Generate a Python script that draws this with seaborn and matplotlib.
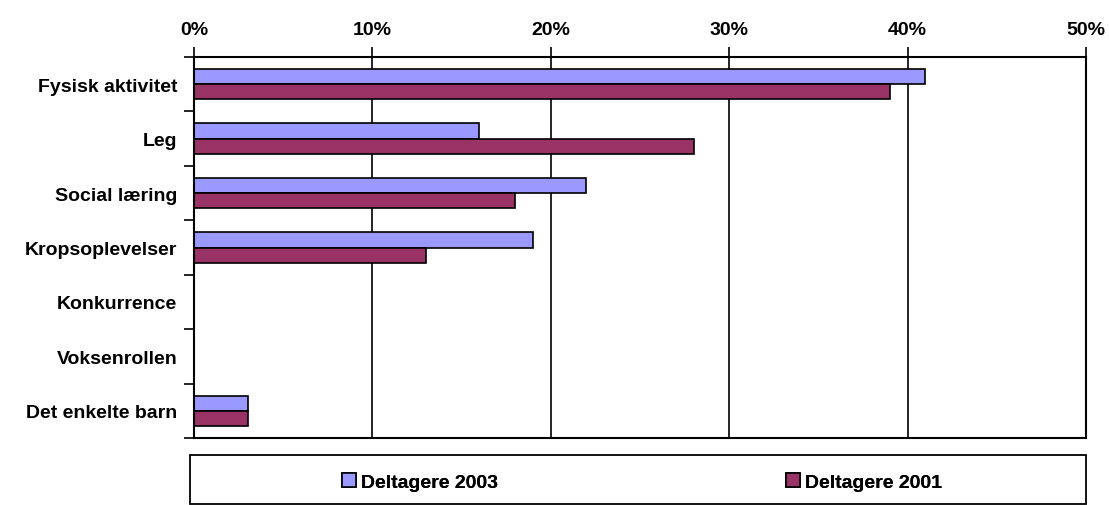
import matplotlib
matplotlib.use("Agg")
import matplotlib.pyplot as plt
import seaborn as sns
import pandas as pd
from matplotlib.patches import Rectangle
from matplotlib.ticker import FixedLocator, PercentFormatter

categories = ["Fysisk aktivitet", "Leg", "Social læring", "Kropsoplevelser",
              "Konkurrence", "Voksenrollen", "Det enkelte barn"]
deltagere_2003 = [41, 16, 22, 19, 0, 0, 3]
deltagere_2001 = [39, 28, 18, 13, 0, 0, 3]
series_names = ["Deltagere 2003", "Deltagere 2001"]
colors = ["#9999FF", "#993366"]
x_ticks = [0, 10, 20, 30, 40, 50]

df = pd.DataFrame({
    "Kategori": categories * 2,
    "Andel": deltagere_2003 + deltagere_2001,
    "Serie": [series_names[0]] * len(categories) + [series_names[1]] * len(categories),
})

sns.set_style("white")
plt.rcParams["font.family"] = ["Liberation Sans", "DejaVu Sans"]
plt.rcParams["font.weight"] = "bold"
plt.rcParams["text.color"] = "black"
plt.rcParams["xtick.color"] = "black"
plt.rcParams["ytick.color"] = "black"

FS = 14

fig = plt.figure(figsize=(11.09, 5.06), dpi=100)
ax = fig.add_axes([194 / 1109, 1 - 439 / 506, (1086 - 194) / 1109, (439 - 58) / 506])

sns.barplot(data=df, x="Andel", y="Kategori", hue="Serie", orient="h",
            palette=colors, order=categories, hue_order=series_names, saturation=1,
            width=0.56, edgecolor="black", linewidth=1.2, ax=ax, legend=True)

handles, labels = ax.get_legend_handles_labels()
if ax.get_legend() is not None:
    ax.get_legend().remove()

ax.set_xlim(0, 50)
ax.set_ylim(len(categories) - 0.5, -0.5)
ax.xaxis.set_major_locator(FixedLocator(x_ticks))
ax.xaxis.set_major_formatter(PercentFormatter(decimals=0))
ax.xaxis.tick_top()
ax.tick_params(axis="x", which="major", direction="out", length=7, width=1.2,
               color="black", labelcolor="black", pad=7, labelsize=FS)
ax.grid(axis="x", color="black", linewidth=1.2)
ax.set_axisbelow(True)
for lbl in ax.get_xticklabels():
    lbl.set_fontweight("bold")

ax.yaxis.set_minor_locator(FixedLocator([i - 0.5 for i in range(len(categories) + 1)]))
ax.tick_params(axis="y", which="major", length=0, pad=12, labelsize=FS, labelcolor="black")
ax.tick_params(axis="y", which="minor", direction="out", length=7, width=1.2,
               color="black", left=True)
for lbl in ax.get_yticklabels():
    lbl.set_fontweight("bold")

ax.set_xlabel("")
ax.set_ylabel("")
for s in ax.spines.values():
    s.set_visible(True)
    s.set_color("black")
    s.set_linewidth(1.5)

# legend box
fig.patches.append(Rectangle((190 / 1109, 1 - 505 / 506), (1086 - 190) / 1109, (505 - 456) / 506,
                             transform=fig.transFigure, facecolor="white",
                             edgecolor="black", linewidth=1.3, zorder=0))
for h, l, cx in zip(handles, labels, [420, 864]):
    leg = fig.legend([h], [l], loc="center", bbox_to_anchor=(cx / 1109, 1 - 483 / 506),
                     frameon=False, handlelength=0.7, handleheight=0.7,
                     handletextpad=0.25, prop={"size": FS, "weight": "bold"})
    fig.add_artist(leg)

fig.savefig("out.png", dpi=100)
